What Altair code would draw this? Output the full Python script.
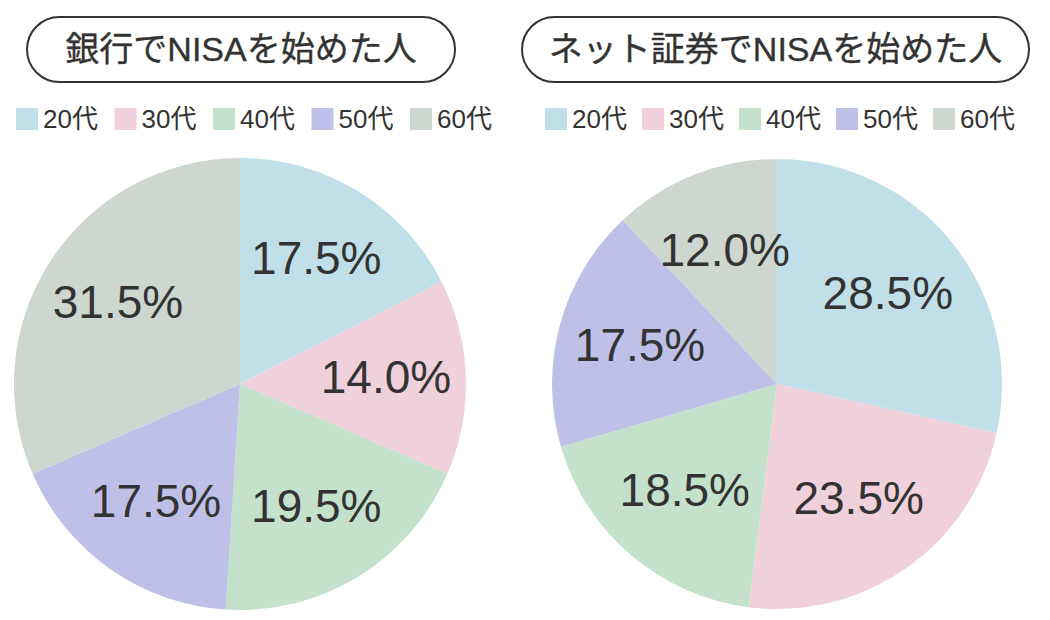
import altair as alt
import pandas as pd

ages = ["20代", "30代", "40代", "50代", "60代"]
bank = [17.5, 14.0, 19.5, 17.5, 31.5]
net = [28.5, 23.5, 18.5, 17.5, 12.0]
colors = ["#c1dfe8", "#f0d1db", "#c4e1cc", "#bfc0e8", "#cdd7d0"]
titles = ["銀行でNISAを始めた人", "ネット証券でNISAを始めた人"]

FONT = "Liberation Sans, Noto Sans CJK JP"
TXT = "#333333"

def pie_df(vals):
    return pd.DataFrame({
        "age": ages,
        "idx": list(range(len(ages))),
        "value": vals,
        "label": [f"{v:.1f}%" for v in vals],
    })

color_scale = alt.Scale(domain=ages, range=colors)
legend_df = pd.DataFrame({"age": ages})


def panel_layers(vals, title, cx, cy, r, label_r, box, leg_range):
    df = pie_df(vals)
    arcs = alt.Chart(df).mark_arc(radius=r, stroke=None).encode(
        theta=alt.Theta("value:Q", stack=True),
        color=alt.Color("age:N", scale=color_scale, legend=None),
        order=alt.Order("idx:Q"),
        x=alt.value(cx), y=alt.value(cy),
    )
    labels = alt.Chart(df).mark_text(
        radius=label_r, font=FONT, fontSize=46, color=TXT
    ).encode(
        theta=alt.Theta("value:Q", stack=True),
        order=alt.Order("idx:Q"),
        text="label:N",
        x=alt.value(cx), y=alt.value(cy),
    )
    tdf = pd.DataFrame({"t": [title]})
    x0, x1, y0, y1 = box
    rect = alt.Chart(tdf).mark_rect(
        cornerRadius=(y1 - y0) / 2, fill="white", stroke="#333333", strokeWidth=2
    ).encode(x=alt.value(x0), x2=alt.value(x1), y=alt.value(y0), y2=alt.value(y1))
    ttext = alt.Chart(tdf).mark_text(
        font=FONT, fontSize=34, fontWeight="normal", color=TXT,
        align="center", baseline="middle", stroke=TXT, strokeWidth=0.35
    ).encode(text="t:N", x=alt.value((x0 + x1) / 2), y=alt.value((y0 + y1) / 2 + 1))
    sq = alt.Chart(legend_df).mark_square(size=484, opacity=1).encode(
        x=alt.X("age:N", scale=alt.Scale(domain=ages, range=leg_range, padding=0), axis=None),
        y=alt.value(119),
        color=alt.Color("age:N", scale=color_scale, legend=None),
    )
    st = alt.Chart(legend_df).mark_text(
        font=FONT, fontSize=26, color=TXT, align="left", baseline="middle", dx=16
    ).encode(
        x=alt.X("age:N", scale=alt.Scale(domain=ages, range=leg_range, padding=0), axis=None),
        y=alt.value(120),
        text="age:N",
    )
    return [arcs, labels, rect, ttext, sq, st]

layers = panel_layers(bank, titles[0], 240, 384, 226, 146, (27, 455, 17, 82), [27, 421]) + \
         panel_layers(net, titles[1], 777, 384, 225, 142, (522, 1029, 17, 82), [556, 944])

chart = alt.layer(*layers).resolve_scale(x="independent").properties(
    width=1050, height=620, padding=0, autosize=alt.AutoSizeParams(type="none")
).configure_view(stroke=None)

chart.save("out.html", embed_options={"renderer": "svg", "actions": False})
